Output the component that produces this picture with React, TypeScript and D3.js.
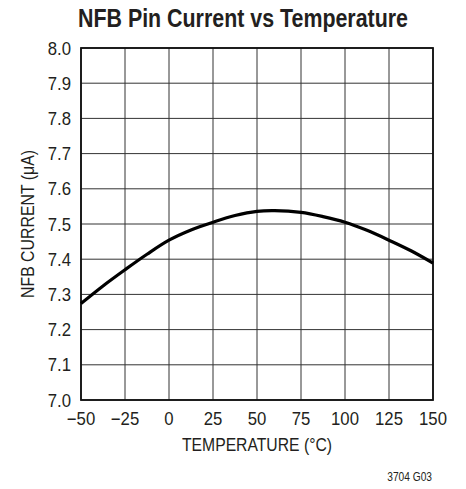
import React from "react";
import * as d3 from "d3";

const temps = [-50, -37.5, -25, -12.5, 0, 12.5, 25, 37.5, 50, 60, 75, 87.5, 100, 112.5, 125, 137.5, 150];
const current = [7.274, 7.324, 7.37, 7.414, 7.454, 7.483, 7.505, 7.524, 7.536, 7.538, 7.533, 7.521, 7.505, 7.482, 7.454, 7.424, 7.389];
const xTicks = [-50, -25, 0, 25, 50, 75, 100, 125, 150];
const yTicks = [7.0, 7.1, 7.2, 7.3, 7.4, 7.5, 7.6, 7.7, 7.8, 7.9, 8.0];

const W = 466, H = 489;
const left = 81, right = 433, top = 48, bottom = 400;
const FONT = "'Liberation Sans', Arial, sans-serif";
const INK = "#231f20";

function NText({ x, y, sx = 0.93, anchor = "middle", size = 18, children }: any) {
  return (
    <g transform={`translate(${x},${y}) scale(${sx},1)`}>
      <text x={0} y={0} textAnchor={anchor} fontSize={size} fill={INK}>{children}</text>
    </g>
  );
}

export default function App() {
  const x = d3.scaleLinear().domain([-50, 150]).range([left, right]);
  const y = d3.scaleLinear().domain([7.0, 8.0]).range([bottom, top]);
  const pts: [number, number][] = temps.map((t, i) => [t, current[i]]);
  const line = d3.line<[number, number]>().x(d => x(d[0])).y(d => y(d[1])).curve(d3.curveCatmullRom);
  const fmtX = (v: number) => (v < 0 ? "\u2212" + Math.abs(v) : String(v));
  return (
    <svg width={W} height={H} style={{ position: "absolute", left: 0, top: 0, background: "#fff" }} fontFamily={FONT}>
      <rect x={0} y={0} width={W} height={H} fill="#fff" />
      <text x={243} y={27} textAnchor="middle" fontSize={25} fontWeight="bold" fill={INK} textLength={330} lengthAdjust="spacingAndGlyphs">NFB Pin Current vs Temperature</text>
      {xTicks.map(t => (
        <line key={"gx" + t} x1={x(t)} x2={x(t)} y1={top} y2={bottom} stroke="#333" strokeWidth={1} />
      ))}
      {yTicks.map(t => (
        <line key={"gy" + t} x1={left} x2={right} y1={y(t)} y2={y(t)} stroke="#333" strokeWidth={1} />
      ))}
      <rect x={left} y={top} width={right - left} height={bottom - top} fill="none" stroke="#111" strokeWidth={1.8} />
      <path d={line(pts) || ""} fill="none" stroke="#000" strokeWidth={3.2} strokeLinejoin="round" />
      {yTicks.map(t => (
        <NText key={"ty" + t} x={left - 10} y={y(t) + 6.5} anchor="end">{t.toFixed(1)}</NText>
      ))}
      {xTicks.map(t => (
        <NText key={"tx" + t} x={x(t)} y={425}>{fmtX(t)}</NText>
      ))}
      <text x={(left + right) / 2} y={451} textAnchor="middle" fontSize={18} fill={INK} textLength={150} lengthAdjust="spacingAndGlyphs">TEMPERATURE (°C)</text>
      <text transform={`translate(34, ${(top + bottom) / 2}) rotate(-90)`} textAnchor="middle" fontSize={18} fill={INK} textLength={148} lengthAdjust="spacingAndGlyphs">NFB CURRENT (μA)</text>
      <NText x={432} y={481} anchor="end" size={12} sx={0.85}>3704 G03</NText>
    </svg>
  );
}
